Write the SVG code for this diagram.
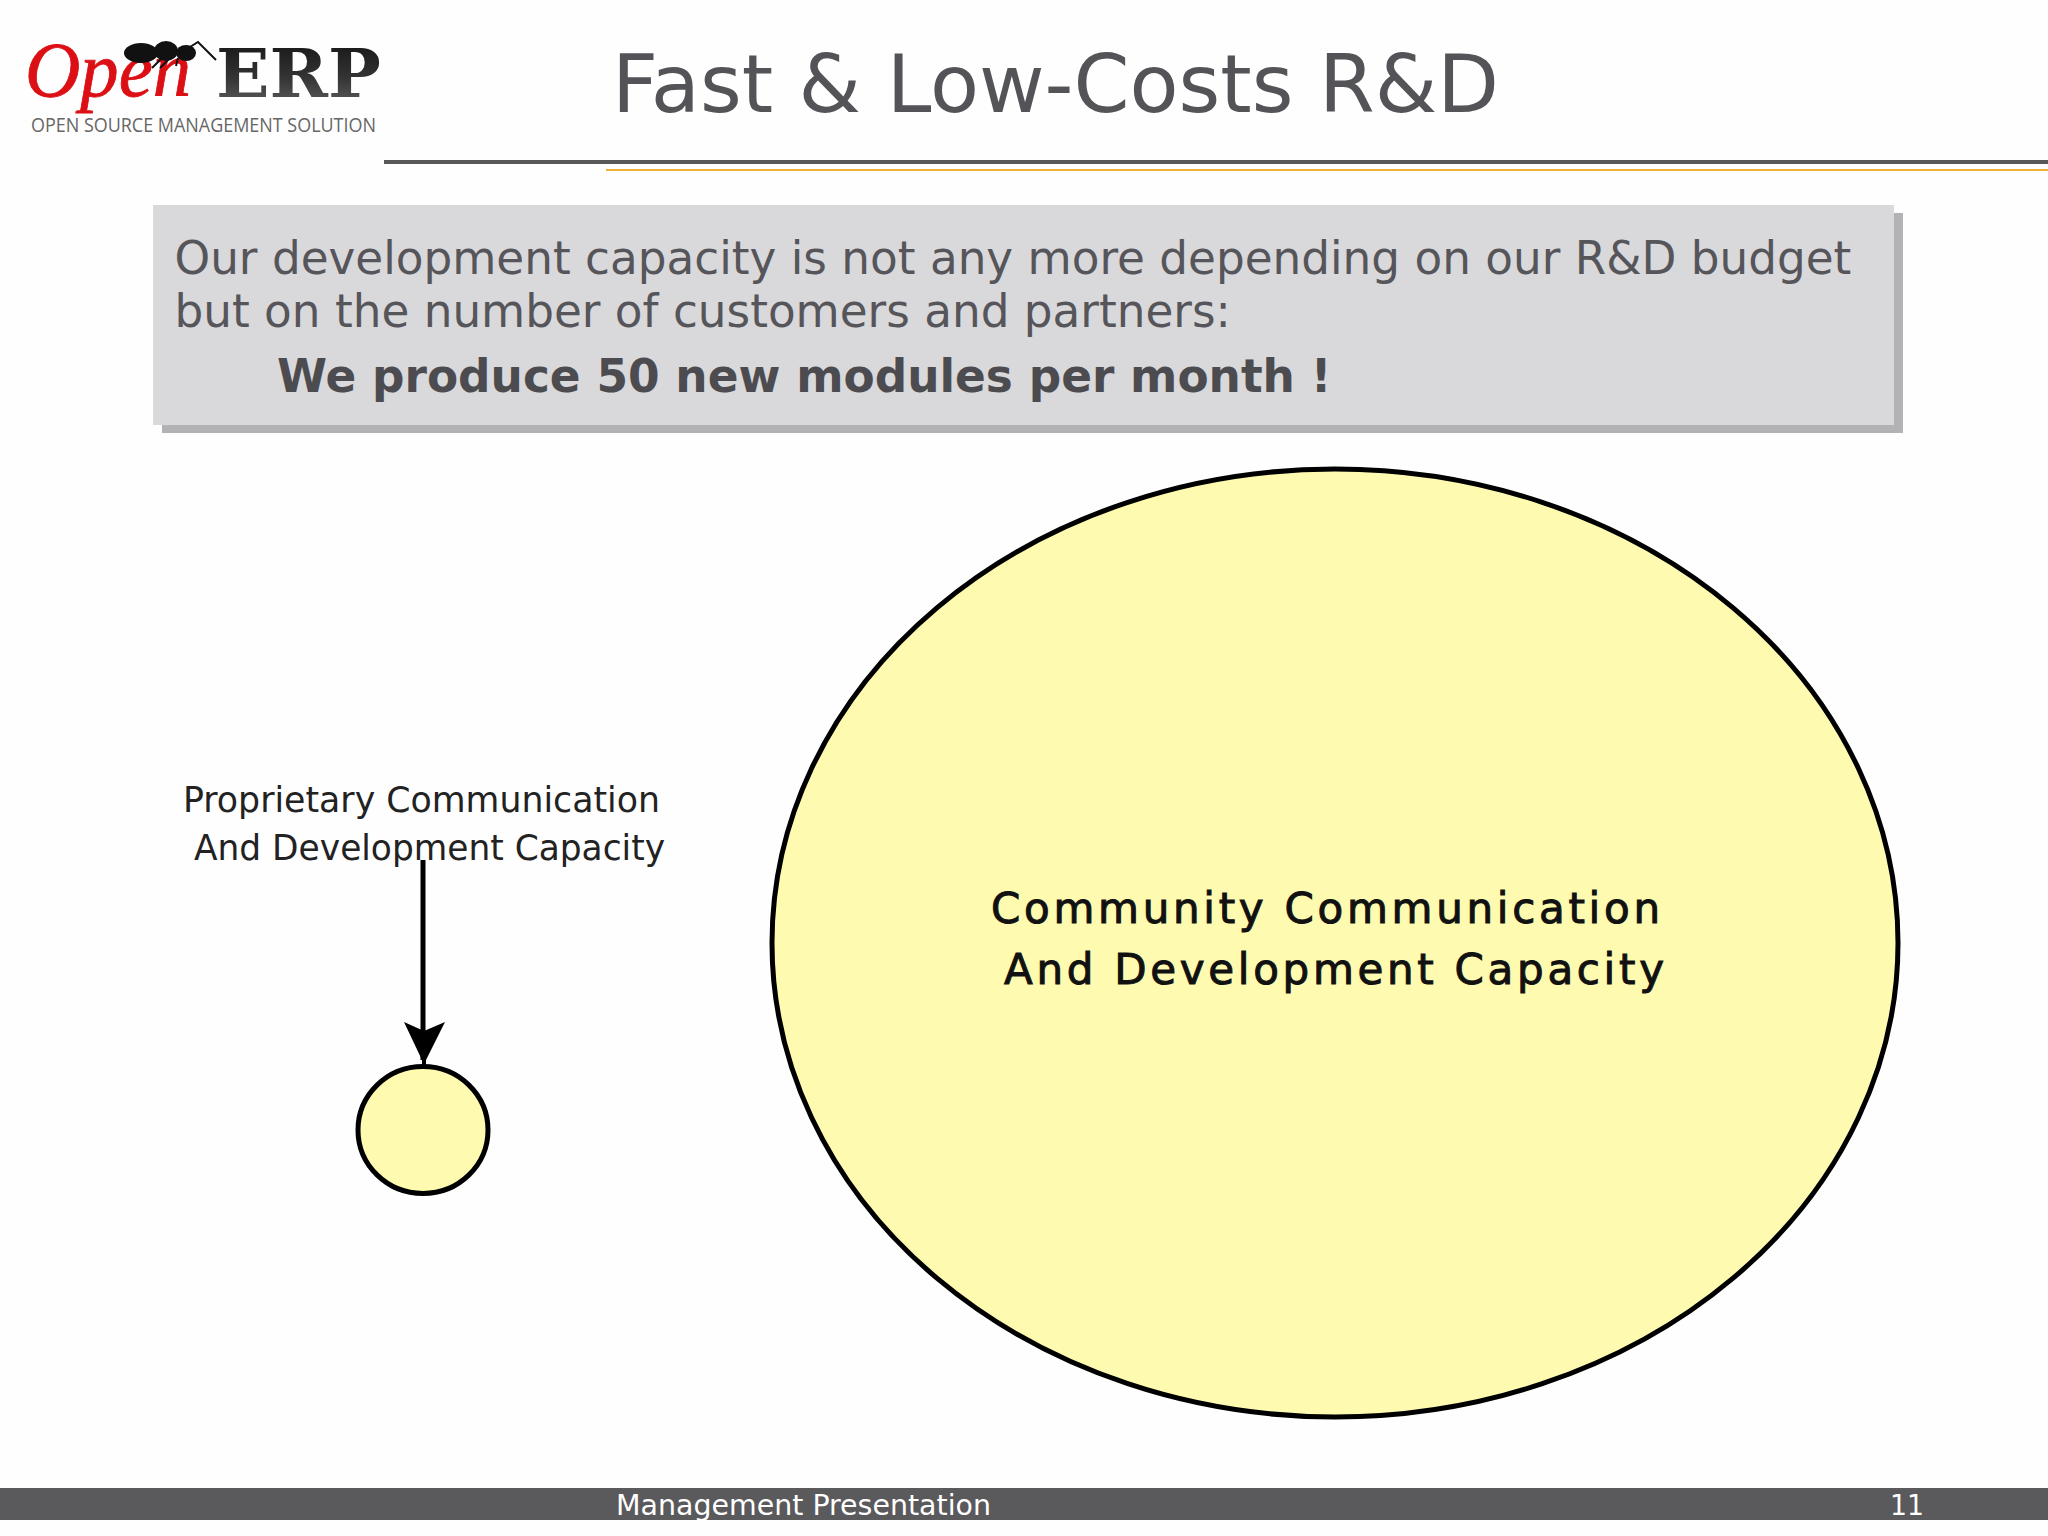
<svg xmlns="http://www.w3.org/2000/svg" width="2048" height="1536" viewBox="0 0 2048 1536">
<defs>
<style>
text{font-family:"DejaVu Sans",sans-serif}
.title{font-size:80.2px;fill:#545458}
.body{font-size:45.3px;fill:#55555a}
.bold{font-size:45.4px;font-weight:700;fill:#4c4c50}
.small{font-size:35px;fill:#222}
.big{font-size:42px;fill:#111;stroke:#111;stroke-width:1px}
.foot{font-size:29px;fill:#fff}
.node{fill:#fefbb0;stroke:#000}
</style>
<linearGradient id="erp" x1="0" y1="0" x2="0" y2="1"><stop offset="0" stop-color="#111"/><stop offset=".55" stop-color="#333"/><stop offset="1" stop-color="#666"/></linearGradient>
</defs>
<rect width="2048" height="1536" fill="#fefefe"/>
<g id="logo">
<text x="25" y="96" font-size="79" style="font-family:'Liberation Serif',serif;font-style:italic" fill="#dc0f14" stroke="#dc0f14" stroke-width=".8" textLength="166" lengthAdjust="spacingAndGlyphs">Open</text>
<g fill="#111" stroke="#111">
<ellipse cx="141" cy="53" rx="17" ry="10" stroke="none"/>
<ellipse cx="166" cy="51" rx="12" ry="10" stroke="none"/>
<ellipse cx="186" cy="53" rx="10" ry="8" stroke="none"/>
<path d="M190 47 L198 42 L216 60" fill="none" stroke-width="2"/>
<path d="M170 58 L160 68 M178 58 L176 66 M162 58 L152 68" fill="none" stroke-width="2"/>
</g>
<text x="216" y="97" font-size="68" font-weight="700" style="font-family:'DejaVu Serif',serif" fill="url(#erp)" textLength="165" lengthAdjust="spacingAndGlyphs">ERP</text>
<text x="31" y="132" style="font-family:'Open Sans',sans-serif;font-size:19.5px" fill="#666" textLength="345" lengthAdjust="spacingAndGlyphs">OPEN SOURCE MANAGEMENT SOLUTION</text>
</g>
<g id="header">
<text class="title" x="612" y="112">Fast &amp; Low-Costs R&amp;D</text>
<rect x="384" y="160" width="1664" height="4" fill="#58585b"/>
<rect x="606" y="169" width="1442" height="2" fill="#f0b03c"/>
</g>
<g id="callout">
<rect x="162" y="213" width="1741" height="220" fill="#b2b1b4"/>
<rect x="153" y="205" width="1741" height="220" fill="#d9d8db"/>
<text class="body" x="174.5" y="274">Our development capacity is not any more depending on our R&amp;D budget</text>
<text class="body" x="174.5" y="327">but on the number of customers and partners:</text>
<text class="bold" x="277" y="392">We produce 50 new modules per month !</text>
</g>
<g id="connectors">
<line x1="423" y1="860" x2="423" y2="1060" stroke="#000" stroke-width="5"/>
<path d="M404 1022 L424 1031 L445 1022 L426 1060 L426 1066 L422 1066 L422 1060 Z" fill="#000"/>
</g>
<g id="proprietary">
<ellipse class="node" cx="423" cy="1130" rx="65" ry="63.5" stroke-width="5"/>
<text class="small" x="183" y="812" textLength="477" lengthAdjust="spacingAndGlyphs">Proprietary Communication</text>
<text class="small" x="194" y="860" textLength="471" lengthAdjust="spacingAndGlyphs">And Development Capacity</text>
</g>
<g id="community">
<ellipse class="node" cx="1335" cy="943" rx="563" ry="474" stroke-width="5"/>
<text class="big" x="991" y="923" textLength="669" lengthAdjust="spacing">Community Communication</text>
<text class="big" x="1004" y="984" textLength="660" lengthAdjust="spacing">And Development Capacity</text>
</g>
<g id="footer">
<rect x="0" y="1488" width="2048" height="32" fill="#5a595c"/>
<text class="foot" x="616" y="1515" textLength="375" lengthAdjust="spacingAndGlyphs">Management Presentation</text>
<text class="foot" x="1890" y="1515" textLength="34" lengthAdjust="spacingAndGlyphs">11</text>
</g>
</svg>
